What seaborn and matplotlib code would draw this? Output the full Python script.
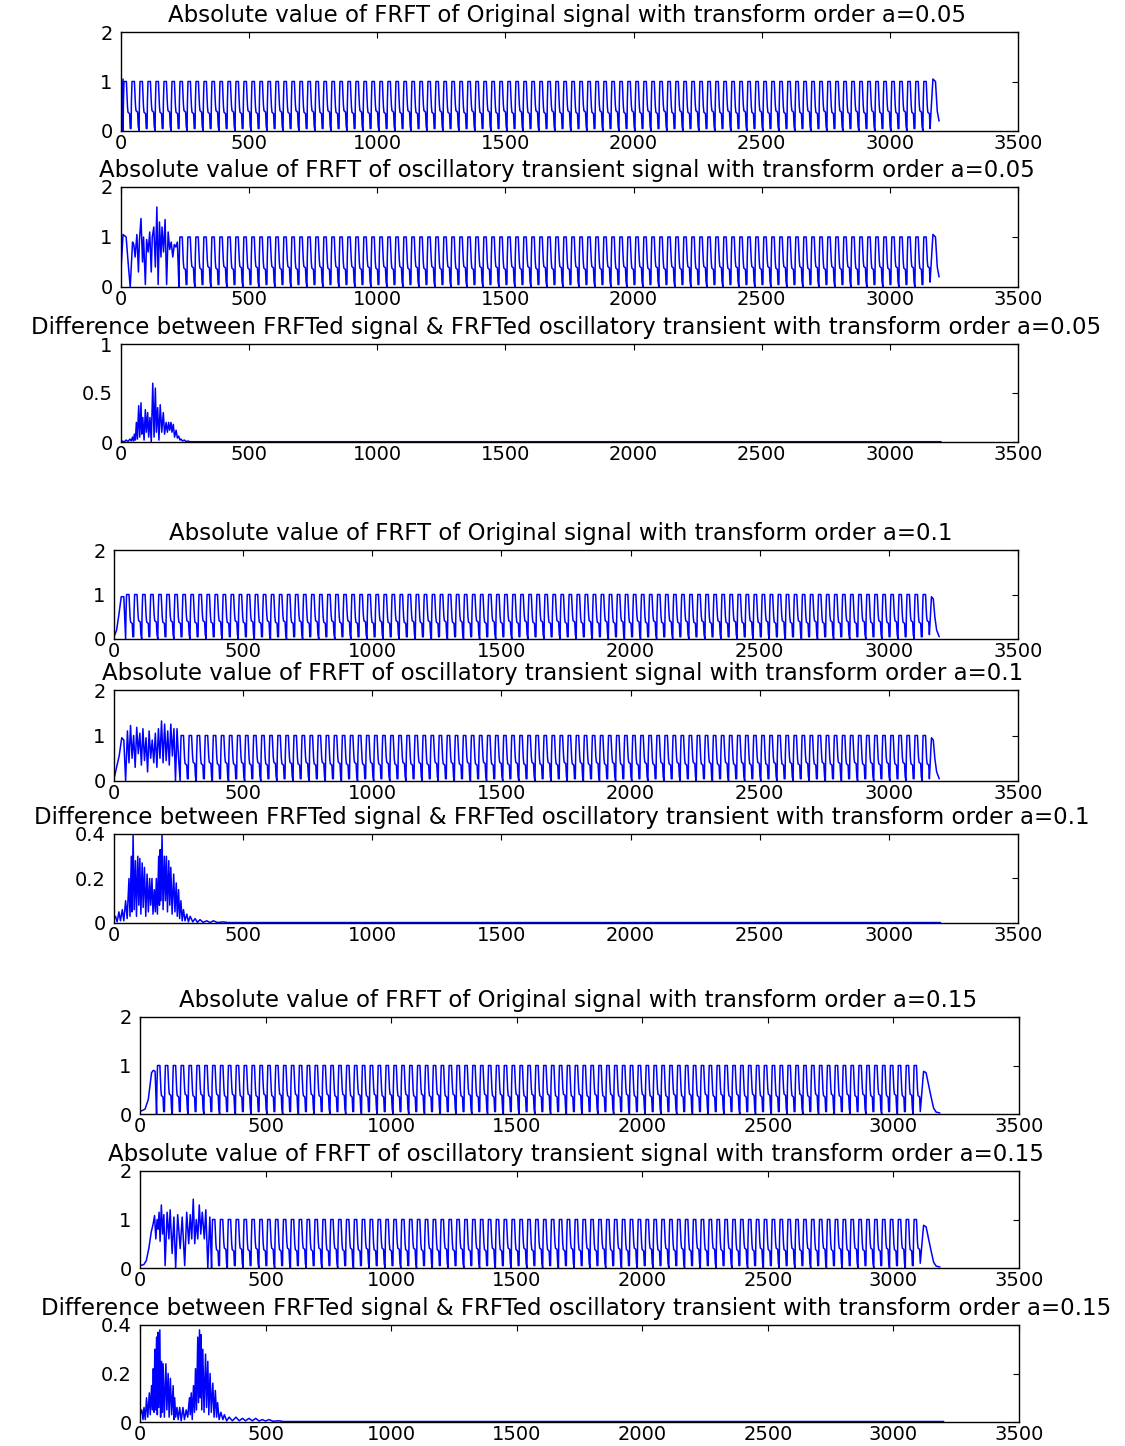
import numpy as np
import matplotlib
matplotlib.use("Agg")
import matplotlib.pyplot as plt
import seaborn as sns

sns.set_theme(style="white")
plt.rcParams['font.family'] = ['DejaVu Sans']

W, H = 1125, 1446

# ---------------- data ----------------
TITLES = [
    "Absolute value of FRFT of Original signal with transform order a=0.05",
    "Absolute value of FRFT of oscillatory transient signal with transform order a=0.05",
    "Difference between FRFTed signal & FRFTed oscillatory transient with transform order a=0.05",
    "Absolute value of FRFT of Original signal with transform order a=0.1",
    "Absolute value of FRFT of oscillatory transient signal with transform order a=0.1",
    "Difference between FRFTed signal & FRFTed oscillatory transient with transform order a=0.1",
    "Absolute value of FRFT of Original signal with transform order a=0.15",
    "Absolute value of FRFT of oscillatory transient signal with transform order a=0.15",
    "Difference between FRFTed signal & FRFTed oscillatory transient with transform order a=0.15",
]
X_TICKS = [0, 500, 1000, 1500, 2000, 2500, 3000, 3500]
Y_TICKS_SIG = [0, 1, 2]
Y_TICKS_D005 = [0, 0.5, 1]
Y_TICKS_D01 = [0, 0.2, 0.4]
Y_TICKLABELS_D005 = ["0", "0.5", "1"]
Y_TICKLABELS_D01 = ["0", "0.2", "0.4"]

# one cycle of the steady oscillation (phase within cycle, fraction of peak)
CYCLE_PHASE = [0.0, 0.05, 0.12, 0.42, 0.55, 0.62, 0.82, 0.9]
CYCLE_SHAPE = [0.0, 0.6, 1.0, 1.0, 0.5, 0.38, 0.35, 0.05]

# --- a = 0.05 original
O005_LEAD_X = [0, 8]
O005_LEAD_Y = [0.35, 1.05]
O005_CYC_START, O005_CYC_END = 8, 3160
O005_PEAKS = [1.0] * 101
O005_TROUGHS = [0.0, 0.05] * 51
O005_TAIL_X = [3168, 3178, 3185, 3192]
O005_TAIL_Y = [1.05, 1.0, 0.4, 0.2]

# --- a = 0.05 transient
T005_LEAD_X = [0, 8, 20, 30, 36, 45, 50, 55, 62, 68, 72, 78, 84, 88, 95, 100, 106, 112, 118, 122, 128,
               134, 140, 145, 150, 156, 160, 166, 172, 178, 184, 190, 196, 202, 208, 214, 220, 226]
T005_LEAD_Y = [0.35, 1.05, 1.0, 0.35, 0.0, 0.9, 0.85, 0.6, 1.05, 0.3, 0.95, 1.37, 0.5, 1.0, 0.05, 0.95,
               0.7, 1.1, 0.3, 1.0, 1.2, 0.4, 1.6, 0.05, 1.3, 0.6, 1.2, 0.7, 1.35, 0.05, 1.1, 0.75, 0.9,
               0.6, 0.85, 0.8, 0.9, 0.0]
T005_CYC_START, T005_CYC_END = 226, 3160
T005_PEAKS = [1.0] * 94
T005_TROUGHS = [0.0, 0.05] * 47
T005_TAIL_X = O005_TAIL_X
T005_TAIL_Y = O005_TAIL_Y

# --- difference a = 0.05
D005_X = [0, 5, 12, 20, 27, 35, 40, 45, 49, 52, 56, 60, 64, 69, 73, 78, 81, 85, 90, 95, 99, 104, 108,
          113, 118, 124, 129, 134, 138, 143, 148, 153, 159, 165, 170, 176, 181, 186, 190, 195, 199,
          204, 209, 215, 220, 225, 230, 234, 240, 247, 253, 260, 270, 3200]
D005_Y = [0.0, 0.01, 0.0, 0.02, 0.005, 0.03, 0.01, 0.05, 0.01, 0.08, 0.02, 0.2, 0.03, 0.37, 0.05, 0.4,
          0.08, 0.25, 0.02, 0.33, 0.1, 0.3, 0.05, 0.25, 0.0, 0.6, 0.05, 0.55, 0.1, 0.35, 0.02, 0.38,
          0.1, 0.3, 0.08, 0.2, 0.1, 0.2, 0.12, 0.2, 0.1, 0.18, 0.05, 0.12, 0.04, 0.06, 0.02, 0.03,
          0.01, 0.02, 0.005, 0.01, 0.003, 0.003]

# --- a = 0.1 original
O01_LEAD_X = [0, 10, 19, 28, 38, 45]
O01_LEAD_Y = [0.05, 0.2, 0.55, 0.95, 0.95, 0.0]
O01_CYC_START, O01_CYC_END = 45, 3160
O01_PEAKS = [1.0] * 100
O01_TROUGHS = [0.0, 0.05] * 50
O01_TAIL_X = [3165, 3172, 3178, 3185, 3195]
O01_TAIL_Y = [0.95, 0.9, 0.5, 0.2, 0.05]

# --- a = 0.1 transient
T01_LEAD_X = [0, 10, 20, 30, 38, 45, 52, 58, 64, 70, 76, 82, 88, 94, 100, 106, 112, 118, 124, 130, 136,
              142, 148, 154, 160, 166, 172, 178, 184, 190, 196, 202, 208, 214, 220, 226, 232, 238, 244,
              250, 256]
T01_LEAD_Y = [0.05, 0.3, 0.55, 0.95, 0.9, 0.0, 1.1, 0.4, 1.22, 0.5, 1.0, 0.3, 1.18, 0.6, 1.05, 0.35,
              1.15, 0.45, 0.95, 0.2, 1.1, 0.5, 0.9, 0.4, 1.05, 0.3, 1.15, 0.5, 1.32, 0.4, 1.25, 0.45,
              1.1, 0.35, 1.25, 0.55, 1.15, 0.0, 1.15, 0.5, 0.0]
T01_CYC_START, T01_CYC_END = 256, 3160
T01_PEAKS = [1.0] * 93
T01_TROUGHS = [0.0, 0.05] * 47
T01_TAIL_X = O01_TAIL_X
T01_TAIL_Y = O01_TAIL_Y

# --- difference a = 0.1
D01_X = [0, 6, 12, 19, 25, 32, 38, 45, 51, 58, 62, 67, 70, 74, 78, 83, 87, 92, 96, 100, 104, 109, 113,
         118, 123, 128, 133, 138, 142, 147, 151, 156, 160, 164, 168, 173, 176, 179, 182, 186, 190, 195,
         199, 203, 207, 212, 216, 220, 225, 231, 236, 241, 245, 250, 254, 259, 264, 269, 275, 282, 288,
         295, 305, 314, 323, 333, 345, 359, 372, 385, 400, 423, 440, 3200]
D01_Y = [0.02, 0.03, 0.005, 0.05, 0.01, 0.06, 0.01, 0.1, 0.02, 0.2, 0.03, 0.3, 0.05, 0.4, 0.06, 0.28,
         0.03, 0.3, 0.08, 0.29, 0.04, 0.27, 0.07, 0.25, 0.03, 0.22, 0.05, 0.2, 0.08, 0.2, 0.04, 0.15,
         0.05, 0.2, 0.04, 0.3, 0.08, 0.33, 0.1, 0.4, 0.06, 0.3, 0.1, 0.3, 0.05, 0.28, 0.08, 0.25, 0.04,
         0.22, 0.05, 0.18, 0.03, 0.15, 0.02, 0.1, 0.01, 0.06, 0.01, 0.04, 0.005, 0.03, 0.005, 0.02,
         0.003, 0.015, 0.003, 0.01, 0.002, 0.01, 0.002, 0.005, 0.002, 0.002]

# --- a = 0.15 original
O015_LEAD_X = [0, 20, 33, 46, 53, 60, 66]
O015_LEAD_Y = [0.05, 0.1, 0.3, 0.85, 0.9, 0.88, 0.0]
O015_CYC_START, O015_CYC_END = 66, 3110
O015_PEAKS = [1.0] * 97
O015_TROUGHS = [0.0, 0.05] * 49
O015_TAIL_X = [3120, 3130, 3140, 3150, 3160, 3170, 3185]
O015_TAIL_Y = [0.88, 0.85, 0.6, 0.35, 0.12, 0.04, 0.02]

# --- a = 0.15 transient
T015_LEAD_X = [0, 15, 25, 35, 45, 52, 58, 63, 68, 72, 76, 80, 85, 90, 95, 100, 108, 115, 120, 128, 135,
               142, 150, 160, 168, 178, 186, 194, 200, 206, 212, 218, 224, 230, 236, 242, 248, 256, 262,
               270, 278, 285]
T015_LEAD_Y = [0.05, 0.07, 0.15, 0.4, 0.75, 0.9, 1.08, 0.6, 1.0, 0.8, 1.15, 0.55, 1.3, 0.7, 1.1, 0.05,
               1.15, 0.6, 1.2, 0.3, 1.05, 0.0, 1.1, 0.4, 1.05, 0.05, 1.15, 0.5, 1.1, 0.6, 1.42, 0.5, 1.0,
               0.6, 1.3, 0.7, 1.15, 0.6, 1.2, 0.0, 1.05, 0.0]
T015_CYC_START, T015_CYC_END = 285, 3110
T015_PEAKS = [1.0] * 90
T015_TROUGHS = [0.0, 0.05] * 45
T015_TAIL_X = O015_TAIL_X
T015_TAIL_Y = O015_TAIL_Y

# --- difference a = 0.15
D015_X = [0, 7, 12, 16, 21, 26, 31, 37, 41, 46, 50, 53, 56, 59, 62, 66, 69, 72, 75, 79, 82, 86, 89, 92,
          97, 103, 107, 112, 116, 121, 126, 132, 135, 138, 142, 147, 152, 158, 164, 171, 177, 184, 190,
          197, 200, 204, 208, 213, 217, 221, 225, 230, 233, 237, 240, 243, 246, 250, 255, 261, 265, 270,
          274, 279, 284, 290, 295, 300, 305, 309, 315, 322, 330, 336, 345, 355, 368, 382, 395, 408, 420,
          434, 447, 461, 474, 487, 500, 513, 530, 553, 570, 3200]
D015_Y = [0.03, 0.05, 0.01, 0.06, 0.01, 0.1, 0.02, 0.12, 0.03, 0.15, 0.05, 0.22, 0.04, 0.3, 0.05, 0.35,
          0.03, 0.37, 0.06, 0.38, 0.02, 0.25, 0.04, 0.24, 0.02, 0.24, 0.05, 0.2, 0.02, 0.18, 0.03, 0.15,
          0.01, 0.1, 0.02, 0.06, 0.01, 0.06, 0.005, 0.06, 0.01, 0.05, 0.02, 0.1, 0.03, 0.12, 0.01, 0.15,
          0.04, 0.22, 0.05, 0.35, 0.08, 0.38, 0.1, 0.36, 0.05, 0.3, 0.04, 0.28, 0.06, 0.25, 0.03, 0.2,
          0.04, 0.16, 0.02, 0.13, 0.02, 0.08, 0.01, 0.04, 0.01, 0.03, 0.005, 0.02, 0.005, 0.02, 0.005,
          0.015, 0.005, 0.015, 0.005, 0.015, 0.004, 0.01, 0.004, 0.01, 0.003, 0.005, 0.002, 0.002]

# ---------------- helpers ----------------
def steady(x0, x1, peaks, troughs):
    n = len(peaks)
    per = (x1 - x0) / n
    xs, ys = [], []
    for k in range(n):
        lo, hi = troughs[k], peaks[k]
        for ph, sh in zip(CYCLE_PHASE, CYCLE_SHAPE):
            xs.append(x0 + (k + ph) * per)
            ys.append(lo + (hi - lo) * sh)
    return xs, ys


def signal(lead_x, lead_y, c0, c1, peaks, troughs, tail_x, tail_y):
    sx, sy = steady(c0, c1, peaks, troughs[:len(peaks)])
    return (list(lead_x) + sx + list(tail_x), list(lead_y) + sy + list(tail_y))


panels = [
    signal(O005_LEAD_X, O005_LEAD_Y, O005_CYC_START, O005_CYC_END, O005_PEAKS, O005_TROUGHS, O005_TAIL_X, O005_TAIL_Y),
    signal(T005_LEAD_X, T005_LEAD_Y, T005_CYC_START, T005_CYC_END, T005_PEAKS, T005_TROUGHS, T005_TAIL_X, T005_TAIL_Y),
    (D005_X, D005_Y),
    signal(O01_LEAD_X, O01_LEAD_Y, O01_CYC_START, O01_CYC_END, O01_PEAKS, O01_TROUGHS, O01_TAIL_X, O01_TAIL_Y),
    signal(T01_LEAD_X, T01_LEAD_Y, T01_CYC_START, T01_CYC_END, T01_PEAKS, T01_TROUGHS, T01_TAIL_X, T01_TAIL_Y),
    (D01_X, D01_Y),
    signal(O015_LEAD_X, O015_LEAD_Y, O015_CYC_START, O015_CYC_END, O015_PEAKS, O015_TROUGHS, O015_TAIL_X, O015_TAIL_Y),
    signal(T015_LEAD_X, T015_LEAD_Y, T015_CYC_START, T015_CYC_END, T015_PEAKS, T015_TROUGHS, T015_TAIL_X, T015_TAIL_Y),
    (D015_X, D015_Y),
]

# axes boxes in pixels: left, right, top, bottom
BOXES = [
    (121, 1018, 32, 131), (121, 1018, 187, 287), (121, 1018, 344, 442),
    (114, 1018, 550, 639), (114, 1018, 690, 781), (114, 1018, 834, 923),
    (140, 1019, 1017, 1114), (140, 1019, 1171, 1268), (140, 1019, 1325, 1422),
]
# horizontal centre of each title, in pixels
TITLE_CX = [567, 567, 566, 561, 563, 562, 578, 576, 576]
YLIMS = [(0, 2), (0, 2), (0, 1), (0, 2), (0, 2), (0, 0.4), (0, 2), (0, 2), (0, 0.4)]

fig = plt.figure(figsize=(W / 100, H / 100), dpi=100)
fig.patch.set_facecolor("white")

for i, ((xs, ys), (l, r, t, b), yl, title, tcx) in enumerate(zip(panels, BOXES, YLIMS, TITLES, TITLE_CX)):
    ax = fig.add_axes([l / W, 1 - b / H, (r - l) / W, (b - t) / H])
    sns.lineplot(x=np.array(xs), y=np.array(ys), ax=ax, sort=False, estimator=None,
                 color="#0000ff", linewidth=1.1)
    ax.set_xlim(0, 3500)
    ax.set_ylim(*yl)
    ax.set_xticks(X_TICKS)
    ax.set_xticklabels([str(v) for v in X_TICKS])
    if i in (2,):
        ax.set_yticks(Y_TICKS_D005)
        ax.set_yticklabels(Y_TICKLABELS_D005)
    elif i in (5, 8):
        ax.set_yticks(Y_TICKS_D01)
        ax.set_yticklabels(Y_TICKLABELS_D01)
    else:
        ax.set_yticks(Y_TICKS_SIG)
        ax.set_yticklabels([str(v) for v in Y_TICKS_SIG])
    ax.tick_params(direction="in", top=True, right=True, length=4, width=0.8,
                   labelsize=14, pad=2, colors="black")
    ax.tick_params(axis="y", pad=6)
    for s in ax.spines.values():
        s.set_color("black")
        s.set_linewidth(1.0)
    ax.set_title(title, fontsize=16.5, pad=7, color="black", x=(tcx - l) / (r - l))
    ax.set_xlabel("")
    ax.set_ylabel("")
    ax.set_facecolor("white")

fig.savefig("out.png", dpi=100)
